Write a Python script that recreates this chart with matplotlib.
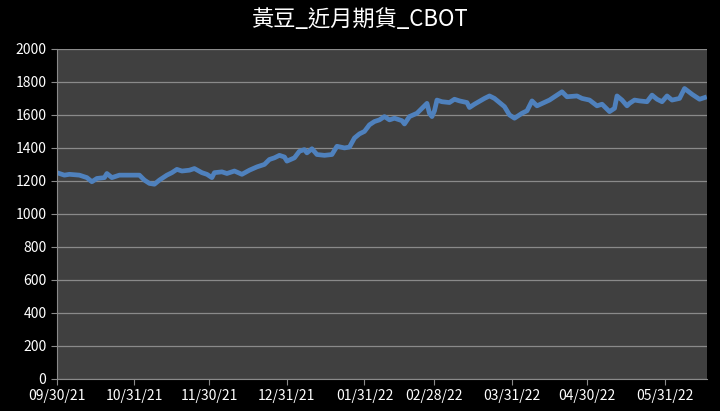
import matplotlib
matplotlib.use('Agg')
import matplotlib.pyplot as plt
import matplotlib.dates as mdates
import pandas as pd

# 黃豆近月期貨 (CBOT) 收盤價, 讀自原圖
dates = ['2021-09-30', '2021-10-03', '2021-10-05', '2021-10-09', '2021-10-12', '2021-10-14',
         '2021-10-16', '2021-10-19', '2021-10-20', '2021-10-22', '2021-10-25', '2021-10-29',
         '2021-11-02', '2021-11-04', '2021-11-06', '2021-11-08', '2021-11-10', '2021-11-13',
         '2021-11-15', '2021-11-17', '2021-11-19', '2021-11-22', '2021-11-24', '2021-11-27',
         '2021-11-29', '2021-12-01', '2021-12-02', '2021-12-05', '2021-12-07', '2021-12-10',
         '2021-12-13', '2021-12-16', '2021-12-19', '2021-12-22', '2021-12-24', '2021-12-26',
         '2021-12-28', '2021-12-30', '2021-12-31', '2022-01-03', '2022-01-05', '2022-01-07',
         '2022-01-08', '2022-01-10', '2022-01-12', '2022-01-15', '2022-01-18', '2022-01-20',
         '2022-01-23', '2022-01-25', '2022-01-27', '2022-01-29', '2022-01-31', '2022-02-02',
         '2022-02-04', '2022-02-06', '2022-02-08', '2022-02-10', '2022-02-12', '2022-02-15',
         '2022-02-16', '2022-02-18', '2022-02-21', '2022-02-23', '2022-02-25', '2022-02-26',
         '2022-02-27', '2022-02-28', '2022-03-01', '2022-03-03', '2022-03-06', '2022-03-08',
         '2022-03-10', '2022-03-13', '2022-03-14', '2022-03-16', '2022-03-20', '2022-03-22',
         '2022-03-24', '2022-03-26', '2022-03-28', '2022-03-30', '2022-04-01', '2022-04-04',
         '2022-04-06', '2022-04-08', '2022-04-10', '2022-04-15', '2022-04-20', '2022-04-22',
         '2022-04-26', '2022-04-28', '2022-05-01', '2022-05-04', '2022-05-06', '2022-05-09',
         '2022-05-11', '2022-05-12', '2022-05-14', '2022-05-16', '2022-05-17', '2022-05-19',
         '2022-05-21', '2022-05-24', '2022-05-26', '2022-05-28', '2022-05-30', '2022-06-01',
         '2022-06-03', '2022-06-06', '2022-06-08', '2022-06-11', '2022-06-14', '2022-06-16']
prices = [1250, 1235, 1240, 1235, 1220, 1195,
          1215, 1220, 1245, 1220, 1235, 1235,
          1235, 1205, 1185, 1180, 1205, 1235,
          1250, 1270, 1260, 1265, 1275, 1250,
          1240, 1220, 1250, 1255, 1245, 1260,
          1240, 1265, 1285, 1300, 1330, 1340,
          1355, 1345, 1320, 1340, 1380, 1390,
          1370, 1395, 1360, 1355, 1360, 1410,
          1400, 1405, 1460, 1485, 1500, 1540,
          1560, 1570, 1590, 1570, 1580, 1565,
          1545, 1590, 1610, 1640, 1670, 1610,
          1590, 1625, 1690, 1680, 1675, 1695,
          1685, 1675, 1645, 1665, 1700, 1715,
          1700, 1675, 1650, 1600, 1580, 1610,
          1625, 1685, 1655, 1690, 1740, 1710,
          1715, 1700, 1690, 1655, 1665, 1620,
          1640, 1715, 1690, 1655, 1670, 1690,
          1685, 1680, 1720, 1695, 1680, 1715,
          1690, 1700, 1760, 1725, 1695, 1705]
tick_dates = ['2021-09-30', '2021-10-31', '2021-11-30', '2021-12-31', '2022-01-31',
              '2022-02-28', '2022-03-31', '2022-04-30', '2022-05-31']
title = '黃豆_近月期貨_CBOT'

plt.rcParams['font.family'] = ['Liberation Sans Narrow', 'Noto Sans CJK TC', 'DejaVu Sans']

x = pd.to_datetime(dates)
fig = plt.figure(figsize=(7.2, 4.11), dpi=100, facecolor='black')
ax = fig.add_axes([0.079, 0.078, 0.903, 0.803])
ax.set_facecolor('#404040')

ax.plot(x, prices, color='#4F81BD', linewidth=3.4, solid_joinstyle='round')

ax.set_ylim(0, 2000)
ax.set_yticks(range(0, 2001, 200))
ax.set_xlim(pd.Timestamp('2021-09-30'), pd.Timestamp('2022-06-17'))
ax.set_xticks(pd.to_datetime(tick_dates))
ax.xaxis.set_major_formatter(mdates.DateFormatter('%m/%d/%y'))

ax.grid(axis='y', color='#8a8a8a', linewidth=0.9)
ax.set_axisbelow(True)
for side in ['top', 'right']:
    ax.spines[side].set_visible(False)
for side in ['left', 'bottom']:
    ax.spines[side].set_color('#8a8a8a')
ax.tick_params(colors='white', labelsize=10, length=4)
ax.tick_params(axis='both', color='#8a8a8a')

fig.suptitle(title, color='white', fontsize=16, y=0.98,
             family=['Noto Sans CJK TC', 'DejaVu Sans'], fontweight='medium')

plt.savefig('out.png', dpi=100, facecolor='black')
